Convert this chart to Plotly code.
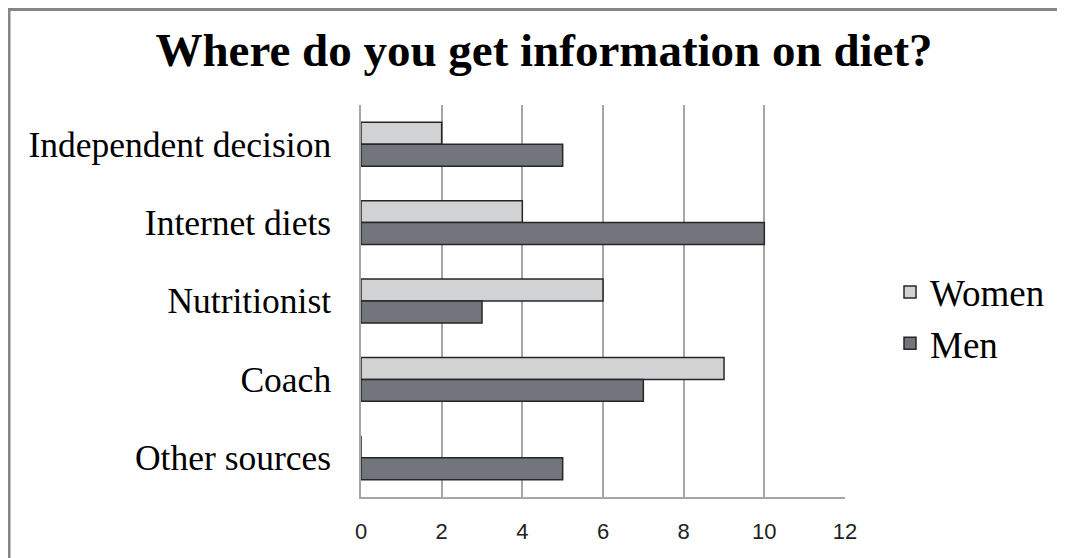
import plotly.graph_objects as go

categories = ["Independent decision", "Internet diets", "Nutritionist", "Coach", "Other sources"]
women = [2, 4, 6, 9, 0]
men = [5, 10, 3, 7, 5]
x_ticks = [0, 2, 4, 6, 8, 10, 12]

W, H = 1065, 558
OFF = 8  # page body margin
L, R, T, B = 361 - OFF, 845 - OFF, 105 - OFF, 497 - OFF

fig = go.Figure()
fig.add_trace(go.Bar(name="Women", y=categories, x=women, orientation="h",
                     marker=dict(color="#d1d2d4", line=dict(color="#262626", width=1.5))))
fig.add_trace(go.Bar(name="Men", y=categories, x=men, orientation="h",
                     marker=dict(color="#72757c", line=dict(color="#262626", width=1.5))))

pw, ph = R - L, B - T
def px(x):
    return (x - OFF - L) / pw
def py(y):
    return (B - (y - OFF)) / ph

fig.update_layout(
    width=W, height=H,
    margin=dict(l=L, r=W - R, t=T, b=H - B, pad=0),
    paper_bgcolor="white", plot_bgcolor="white",
    barmode="group", bargap=0.44, bargroupgap=0,
    title=dict(text="<b>Where do you get information on diet?</b>",
               x=(544 - OFF) / W, xref="container", xanchor="center",
               y=1 - (50 - OFF) / H, yref="container", yanchor="middle",
               font=dict(family="Liberation Serif", size=47, color="black")),
    xaxis=dict(range=[0, 12], tickvals=x_ticks, showgrid=True, gridcolor="#a6a6a6", gridwidth=1.5,
               zeroline=False, showline=True, linecolor="#a6a6a6", linewidth=1.5,
               ticks="", ticklabelstandoff=14,
               tickfont=dict(family="Liberation Sans", size=22, color="#222")),
    yaxis=dict(autorange="reversed", showgrid=False, zeroline=False, showline=True,
               linecolor="#a6a6a6", linewidth=1.5, ticks="", ticklabelstandoff=21,
               tickfont=dict(family="Liberation Serif", size=35.5, color="black")),
    legend=dict(x=px(890), xanchor="left", y=py(318), yanchor="middle",
                font=dict(family="Liberation Serif", size=37, color="black"),
                traceorder="normal", itemwidth=30, tracegroupgap=0,
                bgcolor="rgba(0,0,0,0)"),
    showlegend=True,
    shapes=[dict(type="rect", xref="paper", yref="paper",
                 x0=px(9), x1=px(1080), y0=py(575), y1=py(OFF + 1.5),
                 line=dict(color="#868686", width=3), fillcolor="rgba(0,0,0,0)", layer="below")],
)

fig.write_html("out.html")
